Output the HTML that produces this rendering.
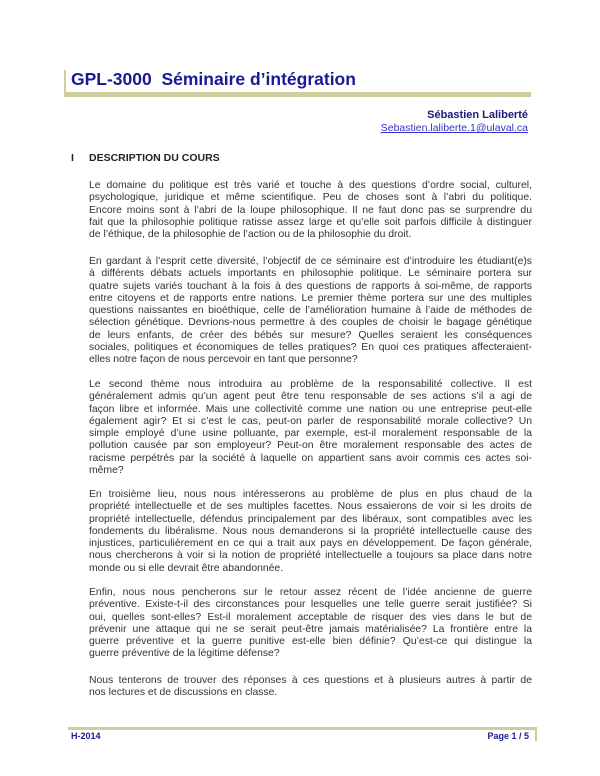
<!DOCTYPE html>
<html><head><meta charset="utf-8"><style>
body{margin:0;background:#fff;width:600px;height:776px;position:relative;overflow:hidden;font-family:"Liberation Sans",Arial,sans-serif;}
.a{position:absolute}
.p{position:absolute;left:89px;width:443px;font-size:10.4px;color:#333;line-height:12.3px}
.p div{text-align:justify;text-align-last:justify;white-space:nowrap;height:12.3px}
.p div.l{text-align-last:left}
</style></head><body>
<div class="a" style="left:64px;top:70px;width:2px;height:24px;background:#cfcd9e"></div>
<div class="a" style="left:64px;top:92px;width:467px;height:5px;background:#cfcd9e"></div>
<div class="a" style="left:71px;top:69px;font-size:17.5px;font-weight:bold;color:#1a1a96;white-space:pre">GPL-3000  Séminaire d’intégration</div>
<div class="a" style="right:72px;top:109px;font-size:11px;font-weight:bold;color:#1a1a7a">Sébastien Laliberté</div>
<div class="a" style="right:72px;top:122px;font-size:10.5px;color:#3333cc;text-decoration:underline">Sebastien.laliberte.1@ulaval.ca</div>
<div class="a" style="left:71px;top:152px;font-size:10.5px;font-weight:bold;color:#222">I</div>
<div class="a" style="left:89px;top:152px;font-size:10.5px;font-weight:bold;color:#222">DESCRIPTION DU COURS</div>

<div class="p" style="top:180px">
<div>Le domaine du politique est très varié et touche à des questions d’ordre social, culturel,</div>
<div>psychologique, juridique et même scientifique. Peu de choses sont à l’abri du politique.</div>
<div>Encore moins sont à l’abri de la loupe philosophique. Il ne faut donc pas se surprendre du</div>
<div>fait que la philosophie politique ratisse assez large et qu’elle soit parfois difficile à distinguer</div>
<div class="l">de l’éthique, de la philosophie de l’action ou de la philosophie du droit.</div>
</div>
<div class="p" style="top:256px">
<div>En gardant à l’esprit cette diversité, l’objectif de ce séminaire est d’introduire les étudiant(e)s</div>
<div>à différents débats actuels importants en philosophie politique. Le séminaire portera sur</div>
<div>quatre sujets variés touchant à la fois à des questions de rapports à soi-même, de rapports</div>
<div>entre citoyens et de rapports entre nations. Le premier thème portera sur une des multiples</div>
<div>questions naissantes en bioéthique, celle de l’amélioration humaine à l’aide de méthodes de</div>
<div>sélection génétique. Devrions-nous permettre à des couples de choisir le bagage génétique</div>
<div>de leurs enfants, de créer des bébés sur mesure? Quelles seraient les conséquences</div>
<div>sociales, politiques et économiques de telles pratiques? En quoi ces pratiques affecteraient-</div>
<div class="l">elles notre façon de nous percevoir en tant que personne?</div>
</div>
<div class="p" style="top:379px">
<div>Le second thème nous introduira au problème de la responsabilité collective. Il est</div>
<div>généralement admis qu’un agent peut être tenu responsable de ses actions s’il a agi de</div>
<div>façon libre et informée. Mais une collectivité comme une nation ou une entreprise peut-elle</div>
<div>également agir? Et si c’est le cas, peut-on parler de responsabilité morale collective? Un</div>
<div>simple employé d’une usine polluante, par exemple, est-il moralement responsable de la</div>
<div>pollution causée par son employeur? Peut-on être moralement responsable des actes de</div>
<div>racisme perpétrés par la société à laquelle on appartient sans avoir commis ces actes soi-</div>
<div class="l">même?</div>
</div>
<div class="p" style="top:489px">
<div>En troisième lieu, nous nous intéresserons au problème de plus en plus chaud de la</div>
<div>propriété intellectuelle et de ses multiples facettes. Nous essaierons de voir si les droits de</div>
<div>propriété intellectuelle, défendus principalement par des libéraux, sont compatibles avec les</div>
<div>fondements du libéralisme. Nous nous demanderons si la propriété intellectuelle cause des</div>
<div>injustices, particulièrement en ce qui a trait aux pays en développement. De façon générale,</div>
<div>nous chercherons à voir si la notion de propriété intellectuelle a toujours sa place dans notre</div>
<div class="l">monde ou si elle devrait être abandonnée.</div>
</div>
<div class="p" style="top:587px">
<div>Enfin, nous nous pencherons sur le retour assez récent de l’idée ancienne de guerre</div>
<div>préventive. Existe-t-il des circonstances pour lesquelles une telle guerre serait justifiée? Si</div>
<div>oui, quelles sont-elles? Est-il moralement acceptable de risquer des vies dans le but de</div>
<div>prévenir une attaque qui ne se serait peut-être jamais matérialisée? La frontière entre la</div>
<div>guerre préventive et la guerre punitive est-elle bien définie? Qu’est-ce qui distingue la</div>
<div class="l">guerre préventive de la légitime défense?</div>
</div>
<div class="p" style="top:675px">
<div>Nous tenterons de trouver des réponses à ces questions et à plusieurs autres à partir de</div>
<div class="l">nos lectures et de discussions en classe.</div>
</div>

<div class="a" style="left:68px;top:727px;width:468px;height:3px;background:#cfcd9e"></div>
<div class="a" style="left:535px;top:727px;width:2px;height:14px;background:#cfcd9e"></div>
<div class="a" style="left:71px;top:731px;font-size:9px;font-weight:bold;color:#1a1a96">H-2014</div>
<div class="a" style="right:71px;top:731px;font-size:9px;font-weight:bold;color:#1a1a96">Page 1 / 5</div>
</body></html>
